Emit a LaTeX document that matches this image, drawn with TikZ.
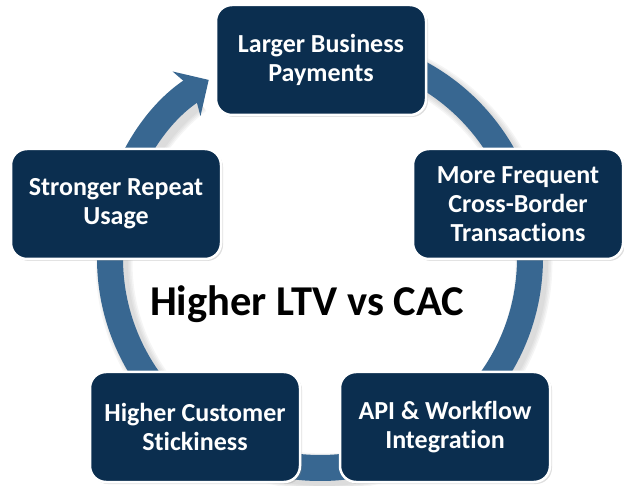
\documentclass[tikz,border=0pt]{standalone}
\usepackage{fontspec}
\setmainfont{Carlito}[Ligatures=NoCommon]
\usepackage{tikz}
\usetikzlibrary{arrows.meta,shadows}
\definecolor{navy}{RGB}{11,46,79}
\definecolor{ringblue}{RGB}{56,103,145}
\tikzstyle{stage} = [draw=white, line width=2.5pt, fill=navy, rounded corners=16pt, minimum width=210pt, minimum height=110pt, align=center, text=white, font=\fontsize{26}{29}\selectfont\bfseries, drop shadow={shadow xshift=2pt, shadow yshift=-2pt, opacity=0.25}]
\tikzstyle{loopring} = [ringblue, line width=26pt, -{Stealth[length=26pt, width=52pt, inset=8pt]}]

\begin{document}
\begin{tikzpicture}[x=1pt, y=1pt]
			\useasboundingbox (0, 0) rectangle (624, 485);
			\coordinate (hub) at (320, 227);
			\foreach \w in {28, 31, 34, 37}
				\draw[gray, opacity=0.08, line width=\w pt] ([shift={(4,-4)}]hub) ++(85:210pt) arc[start angle=85, end angle=-232, radius=210pt];
			\draw[loopring] (hub) ++(85:210pt) arc[start angle=85, end angle=-238, radius=210pt];
			\node[stage] (payments) at (321, 425) {Larger Business\\Payments};
			\node[stage] (crossborder) at (518, 281) {More Frequent\\Cross-Border\\Transactions};
			\node[stage] (repeat) at (116, 281) {Stronger Repeat\\Usage};
			\node[stage] (sticky) at (195, 58) {Higher Customer\\Stickiness};
			\node[stage] (api) at (445, 58) {API \& Workflow\\Integration};
			\node[font=\fontsize{42.5}{48}\selectfont\bfseries, anchor=base] (ltv) at (307, 169) {Higher LTV vs CAC};
		\end{tikzpicture}
\end{document}
